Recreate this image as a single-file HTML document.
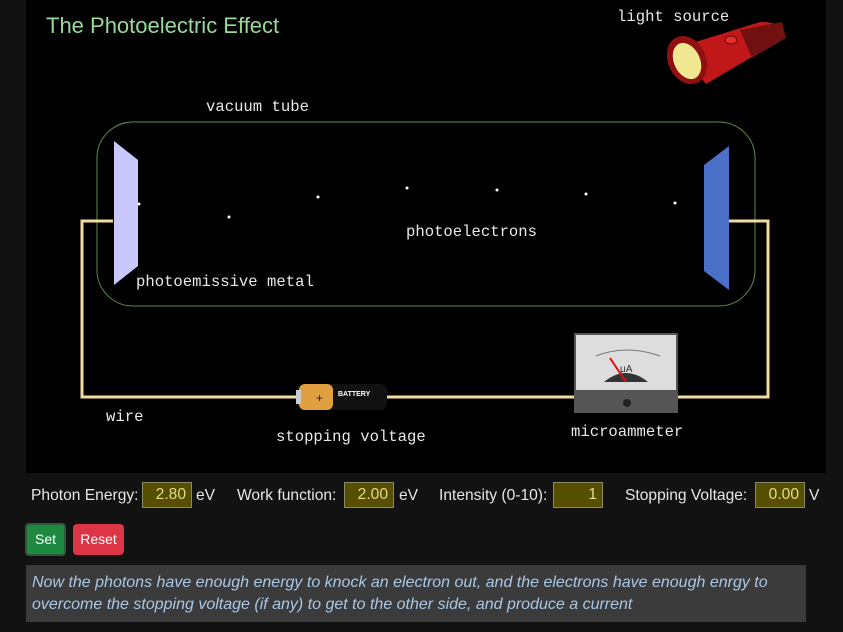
<!DOCTYPE html>
<html><head><meta charset="utf-8"><style>
body{margin:0;width:843px;height:632px;background:#121212;font-family:"Liberation Sans",sans-serif;position:relative;overflow:hidden}
.abs{position:absolute}
.lbl{position:absolute;color:#e8e8e8;font-family:"Liberation Mono",monospace;font-size:15.6px}
.ctl{position:absolute;top:484px;color:#e6e6e6;font-size:15.6px;line-height:24px}
.inp{position:absolute;top:482px;height:26px;background:#574f00;border:1px solid #8a8a6a;color:#e8d890;font-size:15.6px;text-align:right;box-sizing:border-box;padding:3px 5px 0 0}
</style></head><body>
<div class="abs" style="left:26px;top:0;width:800px;height:473px;background:#000"></div>
<div class="abs" style="left:46px;top:13px;font-size:22px;color:#98d898">The Photoelectric Effect</div>
<svg class="abs" style="left:0;top:0" width="843" height="473">
<rect x="97" y="122" width="658" height="184" rx="36" fill="none" stroke="#5f8a4a" stroke-width="1"/>
<polyline points="113,221 82,221 82,397 575,397" fill="none" stroke="#f3dba0" stroke-width="3"/>
<polyline points="676,397 768,397 768,221 728,221" fill="none" stroke="#f3dba0" stroke-width="3"/>
<polygon points="114,141 138,160 138,266 114,285" fill="#c8c8ff"/>
<polygon points="729,146 729,290 704,271 704,165" fill="#4a70c8"/>
<g id="dots"></g>
<g>
<rect x="297" y="384" width="90" height="26" rx="6" fill="#111"/>
<rect x="299" y="384" width="34" height="26" rx="6" fill="#e0a040"/>
<rect x="296" y="390" width="5" height="14" fill="#ccc"/>
<text x="338" y="396" font-size="7" fill="#fff" font-family="Liberation Sans" font-weight="bold">BATTERY</text>
<text x="316" y="402" font-size="12" fill="#222">+</text>
</g>
<g>
<rect x="574" y="333" width="104" height="80" fill="#555"/>
<rect x="576" y="335" width="100" height="55" fill="#ddd"/>
<path d="M596,356 Q626,344 660,356" fill="none" stroke="#777"/>
<path d="M604,382 Q626,364 648,382 Z" fill="#333"/>
<line x1="610" y1="358" x2="626" y2="382" stroke="#e01010" stroke-width="2"/>
<text x="620" y="372" font-size="10" fill="#333">μA</text>
<circle cx="627" cy="403" r="4" fill="#222"/>
</g>
<g>
<path d="M676,48 L760,22 Q788,22 784,38 L706,84 Z" fill="#c01818"/>
<path d="M740,30 L782,22 L786,38 L752,58 Z" fill="#701010"/>
<ellipse cx="687" cy="60" rx="19" ry="25" transform="rotate(-25 687 60)" fill="#901010"/>
<ellipse cx="687" cy="61" rx="13" ry="19" transform="rotate(-25 687 61)" fill="#f0e890"/>
<ellipse cx="731" cy="40" rx="6" ry="4" fill="#e03030" stroke="#700"/>
</g>
</svg>
<div class="lbl" style="left:617px;top:8px">light source</div>
<div class="lbl" style="left:206px;top:98px">vacuum tube</div>
<div class="lbl" style="left:406px;top:223px">photoelectrons</div>
<div class="lbl" style="left:136px;top:273px">photoemissive metal</div>
<div class="lbl" style="left:106px;top:408px">wire</div>
<div class="lbl" style="left:276px;top:428px">stopping voltage</div>
<div class="lbl" style="left:571px;top:423px">microammeter</div>

<div class="ctl" style="left:31px">Photon Energy:</div>
<div class="inp" style="left:142px;width:50px">2.80</div>
<div class="ctl" style="left:196px">eV</div>
<div class="ctl" style="left:237px">Work function:</div>
<div class="inp" style="left:344px;width:50px">2.00</div>
<div class="ctl" style="left:399px">eV</div>
<div class="ctl" style="left:439px">Intensity (0-10):</div>
<div class="inp" style="left:553px;width:50px">1</div>
<div class="ctl" style="left:625px">Stopping Voltage:</div>
<div class="inp" style="left:755px;width:50px">0.00</div>
<div class="ctl" style="left:809px">V</div>

<div class="abs" style="left:25px;top:523px;width:41px;height:33px;background:#1f8a3f;border:2px solid #2a5a3a;border-radius:4px;box-sizing:border-box;color:#fff;font-size:14px;text-align:center;line-height:29px">Set</div>
<div class="abs" style="left:73px;top:524px;width:51px;height:31px;background:#dc3545;border-radius:4px;color:#fff;font-size:14px;text-align:center;line-height:31px">Reset</div>
<div class="abs" style="left:26px;top:565px;width:780px;height:57px;background:#3b3b3b;box-sizing:border-box;padding:7px 6px;color:#a9c8e6;font-style:italic;font-size:16px;line-height:22px">Now the photons have enough energy to knock an electron out, and the electrons have enough enrgy to overcome the stopping voltage (if any) to get to the other side, and produce a current</div>
<script>
const electronX=[139,229,318,407,497,586,675];
const electronY=[204,217,197,188,190,194,203];
const g=document.getElementById('dots');
electronX.forEach((x,i)=>{
  const c=document.createElementNS('http://www.w3.org/2000/svg','circle');
  c.setAttribute('cx',x);c.setAttribute('cy',electronY[i]);c.setAttribute('r',1.5);c.setAttribute('fill','#fff');
  
  
  g.appendChild(c);
});
</script>
</body></html>
